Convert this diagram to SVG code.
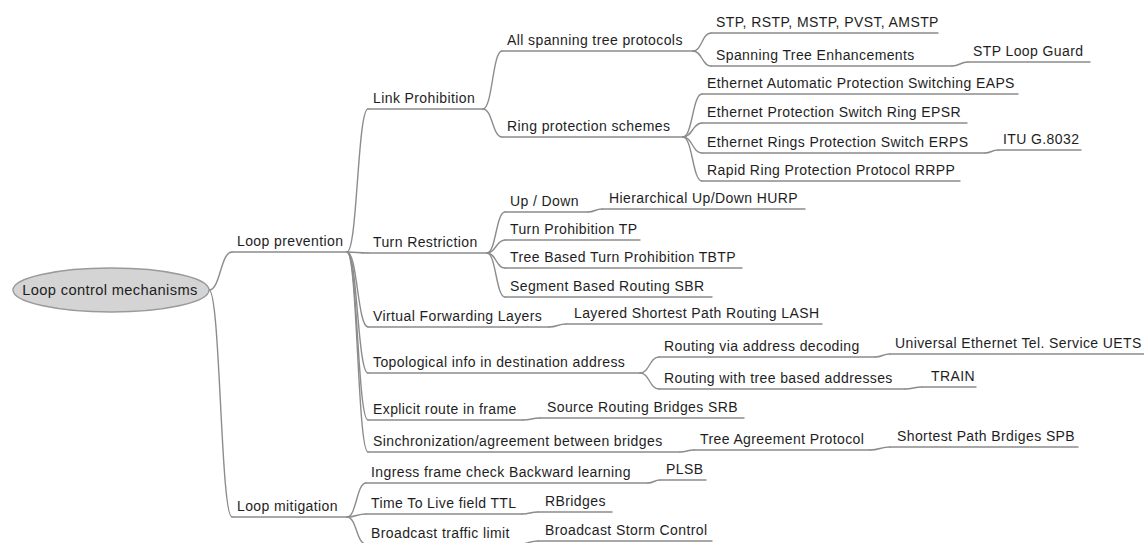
<svg xmlns="http://www.w3.org/2000/svg" width="1144" height="543" viewBox="0 0 1144 543">
  <style>
    .ln { fill: none; stroke: #8c8c8c; stroke-width: 1.4; stroke-linecap: round; }
    .t { font-family: "Liberation Sans", Arial, sans-serif; font-size: 14px; letter-spacing: 0.4px; fill: #1e1e1e; }
    .root { fill: #d4d4d4; stroke: #9a9a9a; stroke-width: 1.4; }
    .rt { font-family: "Liberation Sans", Arial, sans-serif; font-size: 14.7px; letter-spacing: 0.35px; fill: #1e1e1e; text-anchor: middle; }
  </style>
  <rect width="1144" height="543" fill="#ffffff"/>

  <!-- connectors: cubic curves from a parent's underline end to a child's underline start -->
  <g id="connectors" class="ln">
    <path d="M209 290 C220.5 290 220.5 252 232 252"/>
    <path d="M209 290 C220.5 290 220.5 517 232 517"/>

    <path d="M347 252 C357.5 252 357.5 109 368 109"/>
    <path d="M347 252 C357.5 252 357.5 253 368 253"/>
    <path d="M347 252 C357.5 252 357.5 327 368 327"/>
    <path d="M347 252 C357.5 252 357.5 373 368 373"/>
    <path d="M347 252 C357.5 252 357.5 420 368 420"/>
    <path d="M347 252 C357.5 252 357.5 452 368 452"/>

    <path d="M483 109 C492.5 109 492.5 51 502 51"/>
    <path d="M483 109 C492.5 109 492.5 137 502 137"/>

    <path d="M693 51 C702 51 702 33 711 33"/>
    <path d="M693 51 C702 51 702 66 711 66"/>
    <path d="M952 66 C960 66 960 62 968 62"/>

    <path d="M683 137 C692.5 137 692.5 94 702 94"/>
    <path d="M683 137 C692.5 137 692.5 123 702 123"/>
    <path d="M683 137 C692.5 137 692.5 153 702 153"/>
    <path d="M683 137 C692.5 137 692.5 181 702 181"/>
    <path d="M985 153 C991.5 153 991.5 150 998 150"/>

    <path d="M487 253 C496 253 496 212 505 212"/>
    <path d="M487 253 C496 253 496 240 505 240"/>
    <path d="M487 253 C496 253 496 268 505 268"/>
    <path d="M487 253 C496 253 496 297 505 297"/>
    <path d="M588 212 C595 212 595 209 602 209"/>

    <path d="M549 327 C557.5 327 557.5 324 566 324"/>

    <path d="M640 373 C649.5 373 649.5 357 659 357"/>
    <path d="M640 373 C649.5 373 649.5 389 659 389"/>
    <path d="M875 357 C882.5 357 882.5 354 890 354"/>
    <path d="M905 389 C913.5 389 913.5 387 922 387"/>

    <path d="M523 420 C531.5 420 531.5 418 540 418"/>

    <path d="M680 452 C687 452 687 450 694 450"/>
    <path d="M870 450 C880 450 880 447 890 447"/>

    <path d="M347 517 C356.5 517 356.5 483 366 483"/>
    <path d="M347 517 C356.5 517 356.5 514 366 514"/>
    <path d="M347 517 C356.5 517 356.5 544 366 544"/>
    <path d="M648 483 C654 483 654 480 660 480"/>
    <path d="M522 514 C530 514 530 512 538 512"/>
    <path d="M520 544 C529 544 529 541 538 541"/>
  </g>

  <!-- root -->
  <g id="n-root">
    <ellipse class="root" cx="111" cy="290" rx="98" ry="22"/>
    <text class="rt" x="110" y="295">Loop control mechanisms</text>
  </g>

  <!-- first level -->
  <g id="n-prevention"><path class="ln" d="M232 252 H347"/><text class="t" x="237" y="246">Loop prevention</text></g>
  <g id="n-mitigation"><path class="ln" d="M232 517 H347"/><text class="t" x="237" y="511">Loop mitigation</text></g>

  <!-- loop prevention branches -->
  <g id="n-link"><path class="ln" d="M368 109 H483"/><text class="t" x="373" y="103">Link Prohibition</text></g>
  <g id="n-turn"><path class="ln" d="M368 253 H487"/><text class="t" x="373" y="247">Turn Restriction</text></g>
  <g id="n-vfl"><path class="ln" d="M368 327 H549"/><text class="t" x="373" y="321">Virtual Forwarding Layers</text></g>
  <g id="n-topo"><path class="ln" d="M368 373 H640"/><text class="t" x="373" y="367">Topological info in destination address</text></g>
  <g id="n-explicit"><path class="ln" d="M368 420 H523"/><text class="t" x="373" y="414">Explicit route in frame</text></g>
  <g id="n-sync"><path class="ln" d="M368 452 H680"/><text class="t" x="373" y="446">Sinchronization/agreement between bridges</text></g>

  <!-- link prohibition -->
  <g id="n-stp-all"><path class="ln" d="M502 51 H693"/><text class="t" x="507" y="45">All spanning tree protocols</text></g>
  <g id="n-ring"><path class="ln" d="M502 137 H683"/><text class="t" x="507" y="131">Ring protection schemes</text></g>

  <g id="n-stp"><path class="ln" d="M711 33 H938"/><text class="t" x="716" y="27">STP, RSTP, MSTP, PVST, AMSTP</text></g>
  <g id="n-ste"><path class="ln" d="M711 66 H952"/><text class="t" x="716" y="60">Spanning Tree Enhancements</text></g>
  <g id="n-loopguard"><path class="ln" d="M968 62 H1090"/><text class="t" x="973" y="56">STP Loop Guard</text></g>

  <g id="n-eaps"><path class="ln" d="M702 94 H1018"/><text class="t" x="707" y="88">Ethernet Automatic Protection Switching EAPS</text></g>
  <g id="n-epsr"><path class="ln" d="M702 123 H967"/><text class="t" x="707" y="117">Ethernet Protection Switch Ring EPSR</text></g>
  <g id="n-erps"><path class="ln" d="M702 153 H985"/><text class="t" x="707" y="147">Ethernet Rings Protection Switch ERPS</text></g>
  <g id="n-itu"><path class="ln" d="M998 150 H1081"/><text class="t" x="1003" y="144">ITU G.8032</text></g>
  <g id="n-rrpp"><path class="ln" d="M702 181 H960"/><text class="t" x="707" y="175">Rapid Ring Protection Protocol RRPP</text></g>

  <!-- turn restriction -->
  <g id="n-updown"><path class="ln" d="M505 212 H588"/><text class="t" x="510" y="206">Up / Down</text></g>
  <g id="n-hurp"><path class="ln" d="M602 209 H805"/><text class="t" x="609" y="203">Hierarchical Up/Down HURP</text></g>
  <g id="n-tp"><path class="ln" d="M505 240 H640"/><text class="t" x="510" y="234">Turn Prohibition TP</text></g>
  <g id="n-tbtp"><path class="ln" d="M505 268 H742"/><text class="t" x="510" y="262">Tree Based Turn Prohibition TBTP</text></g>
  <g id="n-sbr"><path class="ln" d="M505 297 H712"/><text class="t" x="510" y="291">Segment Based Routing SBR</text></g>

  <!-- virtual forwarding layers -->
  <g id="n-lash"><path class="ln" d="M566 324 H822"/><text class="t" x="574" y="318">Layered Shortest Path Routing LASH</text></g>

  <!-- topological addressing -->
  <g id="n-rvad"><path class="ln" d="M659 357 H875"/><text class="t" x="664" y="351">Routing via address decoding</text></g>
  <g id="n-uets"><path class="ln" d="M890 354 H1144"/><text class="t" x="895" y="348">Universal Ethernet Tel. Service UETS</text></g>
  <g id="n-rwtba"><path class="ln" d="M659 389 H905"/><text class="t" x="664" y="383">Routing with tree based addresses</text></g>
  <g id="n-train"><path class="ln" d="M922 387 H976"/><text class="t" x="931" y="381">TRAIN</text></g>

  <!-- explicit route -->
  <g id="n-srb"><path class="ln" d="M540 418 H744"/><text class="t" x="547" y="412">Source Routing Bridges SRB</text></g>

  <!-- synchronization -->
  <g id="n-tap"><path class="ln" d="M694 450 H870"/><text class="t" x="700" y="444">Tree Agreement Protocol</text></g>
  <g id="n-spb"><path class="ln" d="M890 447 H1078"/><text class="t" x="897" y="441">Shortest Path Brdiges SPB</text></g>

  <!-- loop mitigation -->
  <g id="n-ingress"><path class="ln" d="M366 483 H648"/><text class="t" x="371" y="477">Ingress frame check Backward learning</text></g>
  <g id="n-plsb"><path class="ln" d="M660 480 H706"/><text class="t" x="666" y="474">PLSB</text></g>
  <g id="n-ttl"><path class="ln" d="M366 514 H522"/><text class="t" x="371" y="508">Time To Live field TTL</text></g>
  <g id="n-rbridges"><path class="ln" d="M538 512 H612"/><text class="t" x="545" y="506">RBridges</text></g>
  <g id="n-btl"><path class="ln" d="M366 544 H520"/><text class="t" x="371" y="538">Broadcast traffic limit</text></g>
  <g id="n-bsc"><path class="ln" d="M538 541 H712"/><text class="t" x="545" y="535">Broadcast Storm Control</text></g>
</svg>
